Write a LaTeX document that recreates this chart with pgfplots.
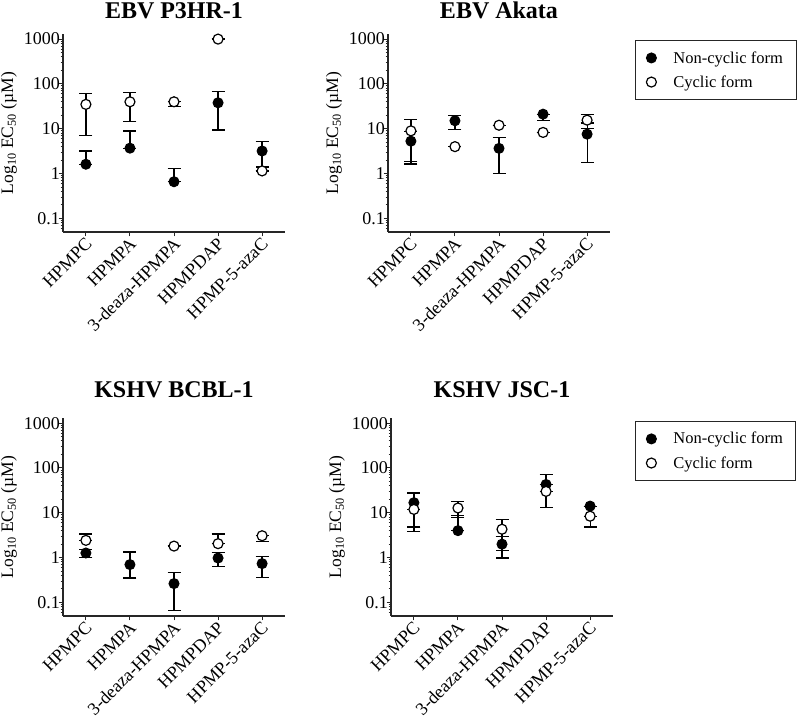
\documentclass[border=0pt]{standalone}
\usepackage{pgfplots}
\pgfplotsset{compat=1.18}
\usepackage{fontspec}
\setmainfont{Liberation Serif}

\pgfplotsset{
  ebstyle/.style={
    scale only axis, width=222pt, height=198pt,
    ymin=0.05, ymax=1300, xmin=-0.52, xmax=4.52,
    axis lines*=left,
    axis line style={line width=1.1pt, black!85},
    tick align=outside, major tick length=4.5pt, minor tick length=2.5pt,
    every tick/.style={black!85, line width=1pt},
    ytick={0.1,1,10,100,1000}, yticklabels={0.1,1,10,100,1000},
    minor ytick={0.06,0.07,0.08,0.09,0.2,0.3,0.4,0.5,0.6,0.7,0.8,0.9,2,3,4,5,6,7,8,9,20,30,40,50,60,70,80,90,200,300,400,500,600,700,800,900},
    xtick={0,1,2,3,4}, xticklabels={HPMPC,HPMPA,3-deaza-HPMPA,HPMPDAP,HPMP-5-azaC},
    tick label style={font=\fontsize{18}{20}\selectfont},
    y tick label style={inner xsep=0.5pt, xshift=2pt},
    x tick label style={rotate=45, anchor=north east, inner sep=1pt, yshift=2pt},
    ylabel={Log\textsubscript{10} EC\textsubscript{50} (µM)},
    ylabel style={at={(axis description cs:-0.243,0.5)}, anchor=center, font=\fontsize{17.5}{20}\selectfont},
    title style={at={(axis description cs:0.5,1)}, anchor=base, font=\bfseries\fontsize{24}{26}\selectfont},
    clip=false,
    legend style={draw=black!85, line width=0.8pt, fill=white, font=\fontsize{16.5}{18}\selectfont, anchor=north west, row sep=7pt, column sep=15pt, inner xsep=11pt, inner ysep=9pt},
    legend cell align=left,
  },
  nc/.style={only marks, black, mark=*, mark size=5pt, mark options={fill=black, draw=black, line width=1pt},
    error bars/y dir=both, error bars/y explicit,
    error bars/error bar style={line width=1.2pt, black},
    error bars/error mark options={rotate=90, mark size=6.5pt, line width=1.2pt, black}},
  cy/.style={only marks, black, mark=*, mark size=5pt, mark options={fill=white, draw=black, line width=1.2pt},
    error bars/y dir=both, error bars/y explicit,
    error bars/error bar style={line width=1.2pt, black},
    error bars/error mark options={rotate=90, mark size=6.5pt, line width=1.2pt, black}},
}

\begin{document}
\begin{tikzpicture}
\path[use as bounding box] (0,0) rectangle (800pt,719pt);

% Panel 1: EBV P3HR-1
\begin{axis}[ymode=log, ebstyle, at={(63pt,487pt)}, title={EBV P3HR-1}, title style={yshift=9pt}]
\addplot[nc] table[x=x,y=y,y error plus=ep,y error minus=em]{
x y ep em
0 1.62 1.58 0
1 3.7 5.2 0
2 0.66 0.65 0
3 38 29 28.6
4 3.2 2.0 1.8
};
\addplot[cy] table[x=x,y=y,y error plus=ep,y error minus=em]{
x y ep em
0 35 26 28
1 40 25 25.6
2 40 0 9
3 1000 0 0
4 1.15 0 0
};
\end{axis}

% Panel 2: EBV Akata
\begin{axis}[ymode=log, ebstyle, at={(388pt,487pt)}, title={EBV Akata}, title style={yshift=9pt},
  legend style={at={(1.1126,0.9697)}}]
\addplot[nc] table[x=x,y=y,y error plus=ep,y error minus=em]{
x y ep em
0 5.3 3.5 3.66
1 15.1 4.7 5.4
2 3.66 2.74 2.64
3 21.2 0 5.6
4 7.6 5.8 5.8
};
\addplot[cy] table[x=x,y=y,y error plus=ep,y error minus=em]{
x y ep em
0 9.0 7.1 7.15
1 4.0 0 0
2 12.0 0 0
3 8.3 0 0
4 15.6 5.3 5.3
};
\legend{Non-cyclic form, Cyclic form}
\end{axis}

% Panel 3: KSHV BCBL-1
\begin{axis}[ymode=log, ebstyle, at={(63pt,103pt)}, title={KSHV BCBL-1}, title style={yshift=14pt}]
\addplot[nc] table[x=x,y=y,y error plus=ep,y error minus=em]{
x y ep em
0 1.27 0.27 0.27
1 0.70 0.64 0.35
2 0.264 0.206 0.197
3 0.98 0.31 0.34
4 0.736 0.334 0.376
};
\addplot[cy] table[x=x,y=y,y error plus=ep,y error minus=em]{
x y ep em
0 2.43 0.93 0
2 1.81 0 0
3 2.05 1.31 0
4 3.08 0 0.78
};
\end{axis}

% Panel 4: KSHV JSC-1
\begin{axis}[ymode=log, ebstyle, at={(391pt,103pt)}, title={KSHV JSC-1}, title style={yshift=14pt},
  legend style={at={(1.099,0.985)}}]
\addplot[nc] table[x=x,y=y,y error plus=ep,y error minus=em]{
x y ep em
0 16.8 10.8 12
1 4.0 4.7 0
2 2.0 1.0 1.02
3 42.8 28.2 0
4 14.1 0 0
};
\addplot[cy] table[x=x,y=y,y error plus=ep,y error minus=em]{
x y ep em
0 11.9 0 8.1
1 12.8 5.2 5.0
2 4.3 2.7 2.85
3 30 0 17
4 8.4 0 3.6
};
\legend{Non-cyclic form, Cyclic form}
\end{axis}
\end{tikzpicture}
\end{document}
